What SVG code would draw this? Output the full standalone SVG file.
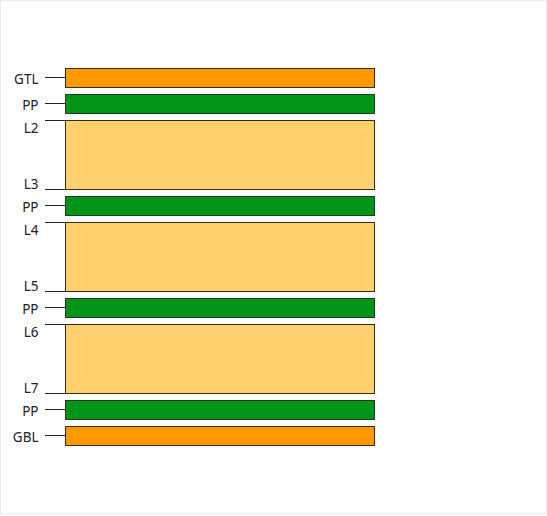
<svg xmlns="http://www.w3.org/2000/svg" width="547" height="516" viewBox="0 0 547 516">
<style>
.lbl{font-family:"Noto Sans","Liberation Sans",sans-serif;font-size:13.5px;fill:#222;text-anchor:end}
.cu{fill:#ff9900;stroke:#3a2a10;stroke-width:1}
.pp{fill:#009418;stroke:#1f3a1f;stroke-width:1}
.core{fill:#ffd06e;stroke:#3a2a10;stroke-width:1}
.lead{stroke:#222;stroke-width:1;fill:none}
</style>
<rect x="0" y="0" width="547" height="516" fill="#ffffff"/>
<rect x="0.5" y="0.5" width="546" height="513" fill="none" stroke="#ececec" stroke-width="1"/>
<g id="connectors">
<line class="lead" x1="45" y1="77.5" x2="65" y2="77.5"/>
<line class="lead" x1="45" y1="103.5" x2="65" y2="103.5"/>
<line class="lead" x1="45" y1="120.5" x2="65" y2="120.5"/>
<line class="lead" x1="45" y1="189.5" x2="65" y2="189.5"/>
<line class="lead" x1="45" y1="205.5" x2="65" y2="205.5"/>
<line class="lead" x1="45" y1="222.5" x2="65" y2="222.5"/>
<line class="lead" x1="45" y1="291.5" x2="65" y2="291.5"/>
<line class="lead" x1="45" y1="307.5" x2="65" y2="307.5"/>
<line class="lead" x1="45" y1="324.5" x2="65" y2="324.5"/>
<line class="lead" x1="45" y1="393.5" x2="65" y2="393.5"/>
<line class="lead" x1="45" y1="409.5" x2="65" y2="409.5"/>
<line class="lead" x1="45" y1="435.5" x2="65" y2="435.5"/>
</g>
<g id="gtl"><rect class="cu" x="65.5" y="68.5" width="309" height="19"/><text class="lbl" x="38.5" y="84">GTL</text></g>
<g id="pp1"><rect class="pp" x="65.5" y="94.5" width="309" height="19"/><text class="lbl" x="38.5" y="110">PP</text></g>
<g id="core1"><rect class="core" x="65.5" y="120.5" width="309" height="69"/><text class="lbl" x="38.5" y="133">L2</text><text class="lbl" x="38.5" y="189">L3</text></g>
<g id="pp2"><rect class="pp" x="65.5" y="196.5" width="309" height="19"/><text class="lbl" x="38.5" y="212">PP</text></g>
<g id="core2"><rect class="core" x="65.5" y="222.5" width="309" height="69"/><text class="lbl" x="38.5" y="235">L4</text><text class="lbl" x="38.5" y="291">L5</text></g>
<g id="pp3"><rect class="pp" x="65.5" y="298.5" width="309" height="19"/><text class="lbl" x="38.5" y="314">PP</text></g>
<g id="core3"><rect class="core" x="65.5" y="324.5" width="309" height="69"/><text class="lbl" x="38.5" y="337">L6</text><text class="lbl" x="38.5" y="393">L7</text></g>
<g id="pp4"><rect class="pp" x="65.5" y="400.5" width="309" height="19"/><text class="lbl" x="38.5" y="416">PP</text></g>
<g id="gbl"><rect class="cu" x="65.5" y="426.5" width="309" height="19"/><text class="lbl" x="38.5" y="442">GBL</text></g>
</svg>
